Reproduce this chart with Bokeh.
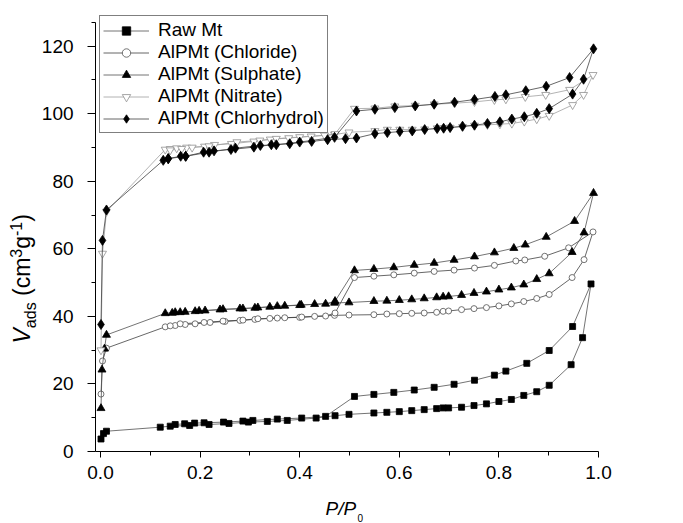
import math
from bokeh.plotting import figure
from bokeh.models import Range1d, FixedTicker, Label, Legend, LegendItem, NumeralTickFormatter
from bokeh.embed import file_html
from bokeh.resources import INLINE

# ---------------- data ----------------
x_ticks = [0.0, 0.2, 0.4, 0.6, 0.8, 1.0]
x_tick_labels = ["0.0", "0.2", "0.4", "0.6", "0.8", "1.0"]
x_minor = [0.1, 0.3, 0.5, 0.7, 0.9]
y_ticks = [0, 20, 40, 60, 80, 100, 120]
y_tick_labels = ["0", "20", "40", "60", "80", "100", "120"]
y_minor = [10, 30, 50, 70, 90, 110, 127]

names = ["Raw Mt", "AlPMt (Chloride)", "AlPMt (Sulphate)", "AlPMt (Nitrate)", "AlPMt (Chlorhydrol)"]

raw_x = [0.001, 0.006, 0.012, 0.120, 0.140, 0.179, 0.218, 0.258, 0.297, 0.335, 0.375, 0.433, 0.471,
         0.499, 0.549, 0.575, 0.600, 0.625, 0.650, 0.675, 0.688, 0.699, 0.725, 0.750, 0.775, 0.800,
         0.825, 0.850, 0.876, 0.901, 0.945, 0.968, 0.985,
         0.948, 0.901, 0.856, 0.814, 0.791, 0.751, 0.710, 0.670, 0.630, 0.589, 0.549, 0.510,
         0.452, 0.404, 0.355, 0.306, 0.286, 0.247, 0.208, 0.189, 0.169, 0.150]
raw_y = [3.7, 5.3, 6.0, 7.2, 7.5, 7.7, 8.0, 8.3, 8.7, 8.9, 9.2, 9.9, 10.6,
         11.0, 11.4, 11.6, 11.8, 12.1, 12.4, 12.7, 12.9, 12.9, 13.1, 13.6, 14.1, 14.8,
         15.4, 16.6, 17.7, 19.6, 25.7, 33.7, 49.6,
         37.0, 29.9, 26.1, 23.8, 22.6, 21.1, 19.9, 19.0, 18.2, 17.5, 16.9, 16.3,
         10.4, 9.9, 9.6, 9.2, 9.0, 8.7, 8.5, 8.4, 8.2, 8.0]

chl_x = [0.001, 0.004, 0.012, 0.130, 0.150, 0.170, 0.190, 0.220, 0.250, 0.280, 0.310, 0.340, 0.370,
         0.400, 0.430, 0.470, 0.499, 0.549, 0.575, 0.600, 0.625, 0.650, 0.675, 0.688, 0.699, 0.725,
         0.750, 0.775, 0.800, 0.825, 0.850, 0.876, 0.901, 0.947, 0.971, 0.989,
         0.940, 0.892, 0.852, 0.834, 0.791, 0.751, 0.710, 0.670, 0.630, 0.589, 0.549, 0.510,
         0.471, 0.452, 0.404, 0.355, 0.316, 0.286, 0.246, 0.208, 0.160, 0.140]
chl_y = [17.0, 26.8, 30.6, 36.9, 37.3, 37.6, 37.8, 38.2, 38.5, 38.8, 39.1, 39.4, 39.6,
         39.7, 40.0, 40.3, 40.4, 40.5, 40.7, 40.8, 40.9, 41.0, 41.2, 41.5, 41.6, 42.0,
         42.3, 42.6, 43.1, 43.7, 44.4, 45.3, 46.5, 51.5, 56.8, 65.0,
         60.3, 57.8, 56.7, 56.4, 55.1, 54.3, 53.7, 53.3, 52.8, 52.3, 51.9, 51.5,
         41.0, 40.1, 39.8, 39.5, 39.3, 38.9, 38.6, 38.2, 37.8, 37.2]

sul_x = [0.001, 0.003, 0.008, 0.012, 0.130, 0.150, 0.170, 0.190, 0.210, 0.240, 0.280, 0.310, 0.340,
         0.370, 0.400, 0.430, 0.470, 0.499, 0.549, 0.575, 0.600, 0.625, 0.650, 0.675, 0.688, 0.699,
         0.725, 0.750, 0.775, 0.800, 0.825, 0.850, 0.876, 0.901, 0.947, 0.971, 0.990,
         0.952, 0.895, 0.853, 0.830, 0.791, 0.751, 0.710, 0.670, 0.630, 0.589, 0.549, 0.510,
         0.471, 0.452, 0.403, 0.355, 0.316, 0.286, 0.246, 0.198, 0.160, 0.144]
sul_y = [12.8, 24.2, 30.4, 34.5, 40.9, 41.2, 41.3, 41.5, 41.7, 42.0, 42.3, 42.5, 42.8,
         43.1, 43.3, 43.6, 44.0, 44.1, 44.5, 44.6, 44.8, 45.0, 45.3, 45.6, 45.8, 45.9,
         46.3, 46.9, 47.3, 47.9, 48.5, 49.4, 51.0, 52.7, 59.0, 64.8, 76.5,
         68.2, 63.5, 61.2, 60.2, 58.9, 57.7, 56.7, 55.8, 55.2, 54.5, 54.0, 53.6,
         44.5, 43.7, 43.4, 43.0, 42.6, 42.3, 42.1, 41.6, 41.2, 41.0]

nit_x = [0.001, 0.004, 0.012, 0.130, 0.140, 0.153, 0.173, 0.209, 0.229, 0.263, 0.308, 0.341, 0.378,
         0.423, 0.470, 0.499, 0.551, 0.576, 0.601, 0.626, 0.651, 0.676, 0.689, 0.702, 0.727, 0.751,
         0.777, 0.802, 0.826, 0.851, 0.876, 0.901, 0.948, 0.970, 0.989,
         0.942, 0.894, 0.853, 0.814, 0.791, 0.751, 0.711, 0.670, 0.632, 0.591, 0.551, 0.510,
         0.471, 0.450, 0.400, 0.353, 0.320, 0.274, 0.218, 0.184, 0.163, 0.140]
nit_y = [30.0, 58.6, 71.0, 89.4, 89.6, 89.8, 90.0, 90.3, 90.8, 91.1, 91.8, 92.4, 92.8,
         93.3, 93.8, 94.5, 94.9, 95.3, 95.3, 95.3, 95.4, 95.7, 95.8, 95.9, 96.1, 96.5,
         96.7, 96.9, 97.1, 97.7, 98.4, 99.4, 102.6, 105.6, 111.5,
         107.1, 105.6, 105.0, 104.3, 104.1, 103.5, 103.1, 102.8, 102.4, 102.2, 101.6, 101.5,
         94.0, 93.6, 93.1, 92.6, 92.1, 91.6, 90.4, 90.0, 89.6, 89.2]

chy_x = [0.001, 0.004, 0.012, 0.126, 0.136, 0.161, 0.171, 0.207, 0.228, 0.262, 0.308, 0.343, 0.380,
         0.424, 0.456, 0.492, 0.514, 0.551, 0.576, 0.601, 0.626, 0.651, 0.676, 0.689, 0.702, 0.727,
         0.751, 0.777, 0.802, 0.826, 0.851, 0.876, 0.901, 0.948, 0.970, 0.990,
         0.942, 0.895, 0.854, 0.814, 0.792, 0.751, 0.711, 0.670, 0.632, 0.591, 0.551, 0.514,
         0.470, 0.400, 0.353, 0.321, 0.271, 0.218, 0.171, 0.136]
chy_y = [37.6, 62.5, 71.5, 86.2, 86.7, 87.4, 87.4, 88.6, 89.0, 89.4, 90.1, 90.8, 91.1,
         91.8, 92.3, 92.6, 92.8, 94.1, 94.4, 94.7, 94.9, 95.3, 95.6, 95.7, 95.9, 96.3,
         96.6, 97.1, 97.6, 98.4, 99.1, 100.1, 101.5, 105.8, 110.2, 119.2,
         110.7, 108.1, 106.8, 105.6, 105.1, 104.2, 103.4, 102.8, 102.3, 101.8, 101.3, 100.8,
         93.0, 91.6, 90.8, 90.6, 89.8, 88.6, 87.4, 86.7]

# ---------------- figure ----------------
# The frame fills the whole canvas; the axes are pinned at x=-0.01 / y=0 so that
# titles and legend (drawn inside the frame) are not clipped.
W, H = 683, 523
X0_PX, X1_PX = 100.0, 598.0        # pixel of x=0 and x=1
Y0_PX, YPX_PER_UNIT = 451.0, 3.378  # pixel of y=0, pixels per y unit
xs_per_px = 1.0 / (X1_PX - X0_PX)
x_start = -X0_PX * xs_per_px
x_end = 1.0 + (W - X1_PX) * xs_per_px
y_start = -(H - Y0_PX) / YPX_PER_UNIT
y_end = Y0_PX / YPX_PER_UNIT

FONT = "Liberation Sans"
p = figure(width=W, height=H, x_range=Range1d(x_start, x_end), y_range=Range1d(y_start, y_end),
           output_backend="svg", toolbar_location=None, title=None, min_border=0)
p.outline_line_color = None
p.xgrid.visible = False
p.ygrid.visible = False
p.background_fill_color = "white"

for ax in (p.xaxis[0], p.yaxis[0]):
    ax.axis_line_color = "black"
    ax.axis_line_width = 1
    ax.major_tick_line_color = "black"
    ax.minor_tick_line_color = "black"
    ax.major_tick_in = 0
    ax.minor_tick_in = 0
    ax.major_label_text_font = FONT
    ax.major_label_text_font_size = "19px"
    ax.major_label_text_color = "black"

p.xaxis.ticker = FixedTicker(ticks=x_ticks, minor_ticks=x_minor)
p.xaxis.formatter = NumeralTickFormatter(format="0.0")
p.xaxis.major_label_overrides = {t: s for t, s in zip(x_ticks, x_tick_labels)}
p.xaxis.major_tick_out = 6
p.xaxis.minor_tick_out = 4
p.xaxis.major_label_standoff = 8
p.xaxis.fixed_location = 0
p.xaxis.bounds = (-0.01, 1.0)

p.yaxis.ticker = FixedTicker(ticks=y_ticks, minor_ticks=y_minor)
p.yaxis.major_label_overrides = {t: s for t, s in zip(y_ticks, y_tick_labels)}
p.yaxis.major_tick_out = 8
p.yaxis.minor_tick_out = 4
p.yaxis.major_label_standoff = 14
p.yaxis.fixed_location = -0.01
p.yaxis.bounds = (0, 127)

styles = [
    dict(xs=raw_x, ys=raw_y, marker="square", size=6, fill="black", line="black", lc="#505050"),
    dict(xs=chl_x, ys=chl_y, marker="circle", size=6, fill="white", line="#505050", lc="#404040"),
    dict(xs=sul_x, ys=sul_y, marker="triangle", size=8, fill="black", line="black", lc="#505050"),
    dict(xs=nit_x, ys=nit_y, marker="inverted_triangle", size=8, fill="white", line="#909090", lc="#a0a0a0"),
    dict(xs=chy_x, ys=chy_y, marker="diamond", size=10, fill="black", line="black", lc="#404040"),
]

items = []
for name, st in zip(names, styles):
    r1 = p.line(st["xs"], st["ys"], line_color=st["lc"], line_width=0.8)
    r2 = p.scatter(st["xs"], st["ys"], marker=st["marker"], size=st["size"],
                   fill_color=st["fill"], line_color=st["line"], line_width=0.8)
    items.append(LegendItem(label=name, renderers=[r1, r2]))

legend = Legend(items=items, location=(99, H - 133))
legend.label_text_font = FONT
legend.label_text_font_size = "19px"
legend.label_text_color = "black"
legend.border_line_color = "black"
legend.border_line_width = 1
legend.background_fill_color = "white"
legend.background_fill_alpha = 1
legend.padding = 3
legend.margin = 0
legend.spacing = 0
legend.glyph_width = 46
legend.glyph_height = 21
legend.label_height = 21
legend.label_standoff = 9
p.add_layout(legend, "center")


# ---------------- axis titles ----------------
def dx(px):
    return x_start + px * xs_per_px


def dy(py):
    return (Y0_PX - py) / YPX_PER_UNIT


SHIFT = 0.4  # label anchor sits this many ems above the baseline


def lab_h(text, px, base_py, size, style="normal"):
    p.add_layout(Label(x=dx(px), y=dy(base_py - SHIFT * size), text=text, text_font=FONT,
                       text_font_size=f"{size}px", text_font_style=style, text_color="black",
                       text_align="left", text_baseline="alphabetic"))


def lab_v(text, base_px, py, size, style="normal"):
    p.add_layout(Label(x=dx(base_px - SHIFT * size), y=dy(py), text=text, angle=math.pi / 2,
                       text_font=FONT, text_font_size=f"{size}px", text_font_style=style,
                       text_color="black", text_align="left", text_baseline="alphabetic"))


# x title  P/P0
lab_h("P/P", 325, 516, 19, style="italic")
lab_h("0", 357, 521, 10)

# y title  V_ads (cm^3 g^-1), rotated, reading bottom to top
F, S = 23, 16
pieces = [("V", F, 0, "italic", 0.667 * F), ("ads", S, 5, "normal", 1.612 * S),
          (None, F, 0, "normal", 0.278 * F),
          ("(cm", F, 0, "normal", 1.666 * F), ("3", S, -9, "normal", 0.556 * S),
          ("g", F, 0, "normal", 0.556 * F), ("-1", S, -9, "normal", 0.889 * S),
          (")", F, 0, "normal", 0.333 * F)]
base = 31
cur = 343
for t, sz, off, stl, wd in pieces:
    if t is not None:
        lab_v(t, base + off, cur, sz, style=stl)
    cur -= wd

open("out.html", "w").write(file_html(p, INLINE))
